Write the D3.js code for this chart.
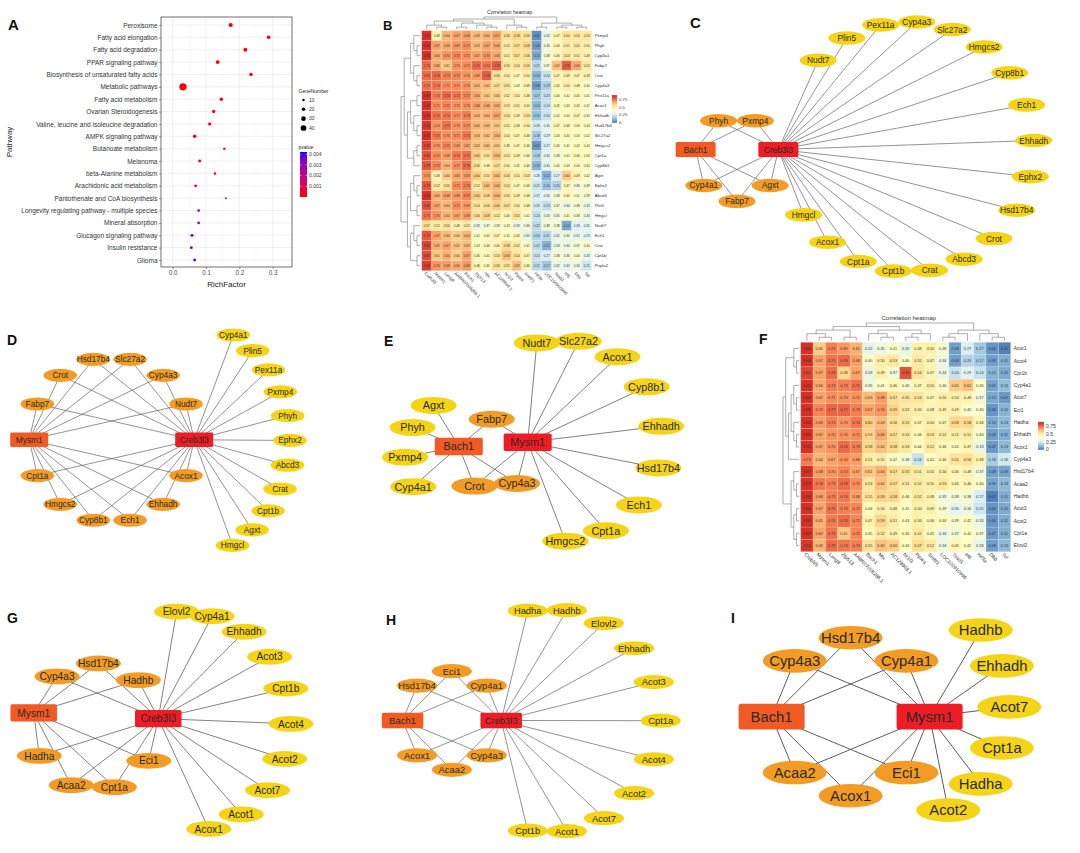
<!DOCTYPE html>
<html><head><meta charset="utf-8">
<script src="https://cdn.jsdelivr.net/npm/d3@7"></script>
<style>body{margin:0;background:#fff}svg{display:block}text{font-family:"Liberation Sans",Arial,sans-serif}</style>
</head><body><svg id="c" width="1080" height="853"></svg>
<script>
// ================= DATA =================
// Panel A – KEGG enrichment
const pathways = ["Peroxisome","Fatty acid elongation","Fatty acid degradation","PPAR signaling pathway",
 "Biosynthesis of unsaturated fatty acids","Metabolic pathways","Fatty acid metabolism","Ovarian Steroidogenesis",
 "Valine, leucine and isoleucine degradation","AMPK signaling pathway","Butanoate metabolism","Melanoma",
 "beta-Alanine metabolism","Arachidonic acid metabolism","Pantothenate and CoA biosynthesis",
 "Longevity regulating pathway - multiple species","Mineral absorption","Glucagon signaling pathway","Insulin resistance","Glioma"];
const richFactor = [0.174,0.288,0.218,0.135,0.235,0.031,0.146,0.123,0.111,0.066,0.155,0.081,0.127,0.069,0.160,0.078,0.078,0.058,0.056,0.066];
const geneNumber = [26,20,23,23,20,55,19,19,17,20,10,14,10,13,5,13,13,16,14,13];
const pValue = [0.00002,0.00005,0.00003,0.00008,0.0001,0.00001,0.00012,0.00015,0.0002,0.0004,0.0003,0.0008,0.0006,0.0009,0.0015,0.0021,0.0017,0.0029,0.0034,0.0040];
const richTicks = [0,0.1,0.2,0.3];
const richMinor = [0.05,0.15,0.25,0.35];
const sizeBreaks = [10,20,30,40];
const pBreaks = [0.001,0.002,0.003,0.004];

// Panel B – correlation heatmap
const bRows = ["Pxmp4","Phyh","Cyp4a1","Fabp7","Crat","Cyp4a3","Pex11a","Acox1","Ehhadh","Hsd17b4","Slc27a2","Hmgcs2",
 "Cpt1a","Cyp8b1","Agxt","Ephx2","Abcd3","Plin5","Hmgcl","Nudt7","Ech1","Crot","Cpt1b","Pnpla2"];
const bCols = ["Creb3l3","Mysm1","Leng8","AABR07006286.1","Bach1","Zfp513","Mlx","AC128848.1","Nr1i3","Ppara","Srebf1",
 "Hif3a","LOC100910996","Tead1","Irf6","Dbp","Tef"];
const bValues = [
 [.87,.48,.64,.67,.68,.63,.64,.67,.56,.58,.56,.05,.32,.47,.54,.54,.53],
 [.86,.67,.66,.69,.71,.63,.67,.66,.52,.57,.58,.08,.36,.46,.51,.52,.50],
 [.85,.66,.70,.72,.71,.67,.70,.66,.51,.57,.56,.10,.38,.46,.53,.51,.49],
 [.76,.66,.61,.70,.71,.76,.74,.78,.55,.54,.56,.21,.37,.62,.78,.66,.52],
 [.76,.76,.73,.72,.70,.69,.78,.56,.50,.47,.50,.13,.24,.47,.49,.47,.49],
 [.75,.74,.71,.71,.70,.64,.62,.57,.55,.43,.48,.08,.19,.45,.50,.48,.40],
 [.89,.73,.76,.74,.72,.66,.61,.60,.52,.50,.48,.17,.23,.44,.42,.45,.41],
 [.88,.71,.72,.70,.70,.68,.66,.65,.53,.51,.50,.14,.24,.45,.43,.45,.41],
 [.86,.75,.74,.71,.73,.64,.64,.67,.54,.49,.53,.15,.24,.42,.44,.47,.40],
 [.84,.70,.75,.70,.71,.64,.63,.61,.51,.48,.50,.26,.30,.47,.46,.45,.44],
 [.85,.74,.70,.71,.74,.63,.62,.64,.50,.47,.48,.18,.29,.43,.45,.43,.42],
 [.82,.70,.72,.69,.67,.62,.62,.61,.48,.47,.46,.07,.27,.40,.42,.43,.44],
 [.80,.71,.68,.74,.75,.60,.55,.63,.52,.49,.46,.19,.30,.38,.42,.46,.43],
 [.79,.72,.64,.71,.76,.56,.48,.57,.50,.45,.46,.13,.30,.40,.43,.44,.45],
 [.70,.48,.60,.66,.68,.60,.55,.62,.56,.50,.53,.28,.12,.27,.60,.49,.42],
 [.79,.52,.55,.71,.73,.52,.62,.64,.54,.47,.46,.25,.16,.20,.47,.36,.39],
 [.86,.65,.68,.69,.72,.60,.58,.64,.55,.49,.48,.27,.30,.38,.45,.41,.39],
 [.80,.67,.64,.71,.69,.54,.56,.60,.57,.50,.48,.26,.23,.37,.34,.38,.33],
 [.75,.70,.64,.67,.68,.56,.59,.52,.46,.55,.42,.24,.33,.35,.41,.38,.34],
 [.57,.52,.55,.48,.52,.33,.37,.39,.43,.33,.36,.22,.38,.38,.10,.28,.30],
 [.79,.67,.63,.60,.64,.42,.45,.47,.42,.46,.33,.20,.21,.31,.35,.32,.29],
 [.82,.65,.67,.62,.63,.43,.46,.46,.58,.52,.42,.22,.12,.33,.34,.37,.40],
 [.81,.61,.65,.60,.67,.46,.45,.53,.63,.54,.47,.24,.27,.38,.36,.40,.33],
 [.83,.70,.68,.66,.69,.48,.45,.56,.55,.62,.46,.22,.17,.32,.32,.34,.25]];
const bRowTree = [[[[0,[1,2]],[3,[4,5]]],[[[6,7],[8,[9,10]]],[[11,12],13]]],[[[14,[15,16]],[17,18]],[[19,[20,21]],[22,23]]]];
const bColTree = [[[[0,[1,2]],[[3,4],[5,[6,7]]]],[8,[9,10]]],[[11,12],[[13,14],[15,16]]]];

// Panel F – correlation heatmap
const fRows = ["Acot1","Acot4","Cpt1b","Cyp4a1","Acot7","Eci1","Hadha","Ehhadh","Acox1","Cyp4a3","Hsd17b4","Acaa2",
 "Hadhb","Acot3","Acot2","Cpt1a","Elovl2"];
const fCols = ["Creb3l3","Mysm1","Leng8","Zfp513","AABR07006286.1","Bach1","Mlx","AC128848.1","Nr1i3","Ppara","Srebf1",
 "LOC100910996","Tead1","Irf6","Hif3a","Dbp","Tef"];
const fValues = [
 [.88,.60,.73,.69,.65,.32,.35,.41,.32,.48,.50,.38,.08,.27,.17,.06,.02],
 [.88,.67,.75,.76,.68,.40,.50,.53,.40,.52,.47,.34,.08,.20,.17,.08,.11],
 [.82,.67,.76,.58,.67,.33,.49,.37,.80,.54,.47,.34,.24,.29,.24,.12,.10],
 [.86,.66,.73,.73,.75,.35,.41,.46,.40,.47,.50,.40,.60,.62,.40,.09,.14],
 [.88,.67,.71,.70,.70,.63,.68,.57,.55,.54,.47,.50,.50,.48,.37,.10,.07],
 [.86,.72,.77,.77,.73,.67,.70,.59,.52,.50,.48,.49,.49,.40,.40,.06,.12],
 [.86,.69,.73,.70,.74,.60,.63,.56,.55,.47,.50,.47,.58,.58,.46,.10,.13],
 [.86,.67,.70,.70,.71,.59,.66,.57,.53,.46,.53,.51,.51,.51,.40,.08,.11],
 [.86,.67,.70,.76,.73,.58,.62,.58,.53,.44,.52,.46,.45,.47,.33,.07,.13],
 [.73,.64,.67,.70,.68,.51,.51,.42,.38,.24,.42,.46,.55,.56,.48,.18,.26],
 [.87,.68,.70,.72,.67,.61,.64,.57,.55,.51,.50,.50,.46,.48,.37,.08,.09],
 [.87,.74,.73,.76,.71,.53,.62,.57,.51,.52,.50,.53,.46,.46,.40,.09,.13],
 [.88,.68,.73,.74,.68,.55,.59,.58,.46,.52,.48,.35,.38,.38,.27,.02,.11],
 [.86,.67,.75,.73,.72,.44,.50,.48,.42,.50,.49,.39,.30,.34,.25,.06,.10],
 [.88,.65,.74,.76,.72,.47,.59,.51,.43,.50,.46,.44,.39,.42,.33,.06,.11],
 [.87,.67,.75,.61,.72,.45,.52,.49,.45,.52,.45,.34,.37,.42,.37,.07,.11],
 [.84,.64,.76,.74,.73,.55,.62,.60,.43,.57,.52,.34,.46,.42,.33,.08,.13]];
const fRowTree = [[[0,[1,2]],[[[3,[4,5]],[6,[7,8]]],9]],[[10,[11,12]],[[13,14],[15,16]]]];
const fColTree = [[[[0,[1,2]],[3,4]],[[5,[6,7]],[[8,9],10]]],[[[11,12],13],[14,[15,16]]]];
const heatLegendTicks = [0,0.25,0.5,0.75];

// Networks (C, D, E, G, H, I)
const netC = {main:"Creb3l3", second:"Bach1",
  ring:["Fabp7","Cyp4a1","Bach1","Phyh","Pxmp4","Creb3l3","Agxt"],
  arc:["Nudt7","Plin5","Pex11a","Cyp4a3","Slc27a2","Hmgcs2","Cyp8b1","Ech1","Ehhadh","Ephx2","Hsd17b4","Crot","Abcd3","Crat","Cpt1b","Cpt1a","Acox1","Hmgcl"], secArc:[]};
const netD = {main:"Creb3l3", second:"Mysm1",
  ring:["Creb3l3","Acox1","Ehhadh","Ech1","Cyp8b1","Hmgcs2","Cpt1a","Mysm1","Fabp7","Crot","Hsd17b4","Slc27a2","Cyp4a3","Nudt7"],
  arc:["Cyp4a1","Plin5","Pex11a","Pxmp4","Phyh","Ephx2","Abcd3","Crat","Cpt1b","Agxt","Hmgcl"], secArc:[]};
const netE = {main:"Mysm1", second:"Bach1",
  ring:["Fabp7","Mysm1","Cyp4a3","Crot","Bach1"],
  arc:["Nudt7","Slc27a2","Acox1","Cyp8b1","Ehhadh","Hsd17b4","Ech1","Cpt1a","Hmgcs2"],
  secArc:["Agxt","Phyh","Pxmp4","Cyp4a1"]};
const netG = {main:"Creb3l3", second:"Mysm1",
  ring:["Creb3l3","Eci1","Cpt1a","Acaa2","Hadha","Mysm1","Cyp4a3","Hsd17b4","Hadhb"],
  arc:["Elovl2","Cyp4a1","Ehhadh","Acot3","Cpt1b","Acot4","Acot2","Acot7","Acot1","Acox1"], secArc:[]};
const netH = {main:"Creb3l3", second:"Bach1",
  ring:["Creb3l3","Cyp4a3","Acaa2","Acox1","Bach1","Hsd17b4","Eci1","Cyp4a1"],
  arc:["Hadha","Hadhb","Elovl2","Ehhadh","Acot3","Cpt1a","Acot4","Acot2","Acot7","Acot1","Cpt1b"], secArc:[]};
const netI = {main:"Mysm1", second:"Bach1",
  ring:["Mysm1","Eci1","Acox1","Acaa2","Bach1","Cyp4a3","Hsd17b4","Cyp4a1"],
  arc:["Hadhb","Ehhadh","Acot7","Cpt1a","Hadha","Acot2"], secArc:[]};

// ================= LAYOUT / STYLE =================
const svg = d3.select("#c");
const fmt2 = d3.format(".2f");

// ---------- Panel A ----------
(function(){
  const g = svg.append("g");
  const L = 161, R = 292, T = 17, B = 267;
  const x = d3.scaleLinear().domain([-0.035,0.358]).range([L,R]);
  const y = d3.scalePoint().domain(pathways).range([25,260]);
  const r = d3.scaleLinear().domain([0,40]).range([0.7,2.85]);
  const col = d3.scaleLinear().domain([0,0.0042]).range(["#FF0000","#0000FF"]).interpolate(d3.interpolateLab);
  g.selectAll(".mn").data(richMinor).join("line").attr("x1",x).attr("x2",x).attr("y1",T).attr("y2",B)
    .attr("stroke","#F3F3F3").attr("stroke-width",0.4);
  g.selectAll(".mj").data(richTicks).join("line").attr("x1",x).attr("x2",x).attr("y1",T).attr("y2",B)
    .attr("stroke","#E8E8E8").attr("stroke-width",0.6);
  g.selectAll(".hy").data(pathways).join("line").attr("x1",L).attr("x2",R).attr("y1",y).attr("y2",y)
    .attr("stroke","#E8E8E8").attr("stroke-width",0.6);
  const pts = pathways.map((p,i)=>({p, rf:richFactor[i], n:geneNumber[i], pv:pValue[i]}));
  g.selectAll("circle.pt").data(pts).join("circle").attr("cx",d=>x(d.rf)).attr("cy",d=>y(d.p))
    .attr("r",d=>r(d.n)).attr("fill",d=>col(d.pv));
  g.append("rect").attr("x",L).attr("y",T).attr("width",R-L).attr("height",B-T).attr("fill","none")
    .attr("stroke","#333").attr("stroke-width",0.7);
  const ax = g.append("g").attr("transform",`translate(0,${B})`)
    .call(d3.axisBottom(x).tickValues(richTicks).tickFormat(d3.format(".1f")).tickSize(2).tickPadding(1.5));
  ax.select(".domain").remove();
  ax.selectAll("text").attr("font-size",6.3).attr("fill","#4D4D4D").attr("font-family","Liberation Sans");
  ax.selectAll("line").attr("stroke","#333").attr("stroke-width",0.5);
  const ay = g.append("g").attr("transform",`translate(${L},0)`)
    .call(d3.axisLeft(y).tickSize(2).tickPadding(1.5));
  ay.select(".domain").remove();
  ay.selectAll("text").attr("font-size",6.5).attr("fill","#333").attr("font-family","Liberation Sans");
  ay.selectAll("line").attr("stroke","#333").attr("stroke-width",0.5);
  g.append("text").attr("x",(L+R)/2).attr("y",287).attr("text-anchor","middle").attr("font-size",8).attr("fill","#222").text("RichFactor");
  g.append("text").attr("transform","translate(12,142) rotate(-90)").attr("text-anchor","middle").attr("font-size",8).attr("fill","#222").text("Pathway");
  g.append("text").attr("x",298.5).attr("y",92.5).attr("font-size",5).attr("fill","#222").text("GeneNumber");
  const ly = d3.scalePoint().domain(sizeBreaks).range([100,128]);
  g.selectAll("circle.lg").data(sizeBreaks).join("circle").attr("cx",303.5).attr("cy",ly).attr("r",r).attr("fill","#000");
  g.selectAll("text.lg").data(sizeBreaks).join("text").attr("x",309).attr("y",ly).attr("dy","0.35em").attr("font-size",5).attr("fill","#333").text(d=>d);
  g.append("text").attr("x",298.5).attr("y",148.5).attr("font-size",5).attr("fill","#222").text("pvalue");
  const cy = d3.scaleLinear().domain([0,0.0042]).range([197,152]);
  const defs = svg.append("defs");
  const gr = defs.append("linearGradient").attr("id","pgrad").attr("x1",0).attr("x2",0).attr("y1",1).attr("y2",0);
  d3.range(0,1.0001,0.1).forEach(t=>gr.append("stop").attr("offset",t).attr("stop-color",col(t*0.0042)));
  g.append("rect").attr("x",300).attr("y",152).attr("width",7).attr("height",45).attr("fill","url(#pgrad)");
  g.selectAll("line.pb").data(pBreaks).join("line").attr("x1",300).attr("x2",301.5).attr("y1",cy).attr("y2",cy).attr("stroke","#fff").attr("stroke-width",0.5);
  g.selectAll("line.pb2").data(pBreaks).join("line").attr("x1",305.5).attr("x2",307).attr("y1",cy).attr("y2",cy).attr("stroke","#fff").attr("stroke-width",0.5);
  g.selectAll("text.pb").data(pBreaks).join("text").attr("x",309).attr("y",cy).attr("dy","0.35em").attr("font-size",5).attr("fill","#333").text(d3.format(".3f"));
})();

// ---------- Heatmaps ----------
const heatColor = d3.scaleLinear().domain(d3.range(7).map(i=>i*0.85/6))
  .range(["#4575B4","#91BFDB","#E0F3F8","#FFFFBF","#FEE090","#FC8D59","#D73027"]).clamp(true);

function dendro(g, tree, leafPos, base, top, horizontal){
  const root = d3.hierarchy(tree, d => Array.isArray(d) ? d : null);
  const lvl = d3.scaleLinear().domain([0, root.height]).range([base, top]);
  root.eachAfter(n => { n.p = n.children ? d3.mean(n.children, c => c.p) : leafPos(n.data); });
  const segs = [];
  root.each(n => {
    if (!n.children) return;
    const h = lvl(n.height), ps = n.children.map(c => c.p);
    segs.push([d3.min(ps),h,d3.max(ps),h]);
    n.children.forEach(c => segs.push([c.p, lvl(c.height), c.p, h]));
  });
  g.selectAll(null).data(segs).join("line")
    .attr("x1",s=>horizontal?s[1]:s[0]).attr("y1",s=>horizontal?s[0]:s[1])
    .attr("x2",s=>horizontal?s[3]:s[2]).attr("y2",s=>horizontal?s[2]:s[3])
    .attr("stroke","#777").attr("stroke-width",0.6);
}

function heatmap(cfg, rows, cols, vals, rowTree, colTree){
  const g = svg.append("g");
  const x = d3.scaleBand().domain(d3.range(cols.length)).range([cfg.x0,cfg.x1]);
  const y = d3.scaleBand().domain(d3.range(rows.length)).range([cfg.y0,cfg.y1]);
  const cells = vals.flatMap((row,i)=>row.map((v,j)=>({i,j,v})));
  g.selectAll("rect.c").data(cells).join("rect").attr("x",d=>x(d.j)).attr("y",d=>y(d.i))
    .attr("width",x.bandwidth()).attr("height",y.bandwidth()).attr("fill",d=>heatColor(d.v))
    .attr("stroke","#f2efe6").attr("stroke-width",0.2);
  g.selectAll("text.v").data(cells).join("text").attr("x",d=>x(d.j)+x.bandwidth()/2)
    .attr("y",d=>y(d.i)+y.bandwidth()/2).attr("dy","0.35em").attr("text-anchor","middle")
    .attr("font-size",cfg.valFont).attr("fill","#333").text(d=>fmt2(d.v));
  g.selectAll("text.rl").data(rows).join("text").attr("x",cfg.x1+3).attr("y",(d,i)=>y(i)+y.bandwidth()/2)
    .attr("dy","0.35em").attr("font-size",cfg.labFont).attr("fill","#333").text(d=>d);
  g.selectAll("text.cl").data(cols).join("text")
    .attr("transform",(d,j)=>`translate(${x(j)+x.bandwidth()/2-cfg.labFont*0.6},${cfg.y1+3}) rotate(45)`)
    .attr("font-size",cfg.labFont).attr("fill","#333").text(d=>d);
  dendro(g, colTree, j=>x(j)+x.bandwidth()/2, cfg.y0-1.5, cfg.colTop, false);
  dendro(g, rowTree, i=>y(i)+y.bandwidth()/2, cfg.x0-1.5, cfg.rowLeft, true);
  g.append("text").attr("x",(cfg.x0+cfg.x1)/2+3).attr("y",cfg.titleY).attr("text-anchor","middle")
    .attr("font-size",cfg.titleFont).attr("fill","#333").text("Correlation heatmap");
  const ly = d3.scaleLinear().domain([0,0.9]).range([cfg.legBottom, cfg.legBottom-0.9*cfg.legPx]);
  const steps = d3.range(0,0.9,0.01);
  g.selectAll("rect.lg").data(steps).join("rect").attr("x",cfg.legX).attr("y",d=>ly(d+0.01))
    .attr("width",cfg.legW).attr("height",Math.abs(ly(0)-ly(0.01))+0.3).attr("fill",d=>heatColor(d+0.005));
  g.selectAll("text.lg").data(heatLegendTicks).join("text").attr("x",cfg.legX+cfg.legW+2).attr("y",ly)
    .attr("dy","0.35em").attr("font-size",cfg.labFont).attr("fill","#333").text(d=>d);
}

heatmap({x0:421.7,x1:591.7,y0:30.7,y1:270.7,valFont:3.1,labFont:4.3,colTop:17,rowLeft:401,titleY:14,titleFont:5,
  legX:612,legW:5,legBottom:122.5,legPx:30.5}, bRows, bCols, bValues, bRowTree, bColTree);
heatmap({x0:800.7,x1:1010.7,y0:342.3,y1:551.7,valFont:3.8,labFont:5,colTop:323,rowLeft:783,titleY:320,titleFont:6,
  legX:1038,legW:6,legBottom:449.5,legPx:30.7}, fRows, fCols, fValues, fRowTree, fColTree);

// ---------- Networks ----------
const colMain = "#EE1C25", colSecond = "#F15A22", colRing = "#F39C25", colArc = "#F5D418";
function network(net, lay, sty){
  const g = svg.append("g");
  const pos = new Map();
  const place = (list, P) => {
    if (!list.length) return;
    const a = d3.scaleLinear().domain([0, Math.max(1,list.length-1)]).range([P.start, P.start + P.step*Math.max(1,list.length-1)]);
    list.forEach((n,i)=>{ const t = a(i)*Math.PI/180; pos.set(n,[P.cx+P.r*Math.cos(t), P.cy+P.r*Math.sin(t)]); });
  };
  place(net.ring, lay.ring); place(net.arc, lay.arc); if (lay.secArc) place(net.secArc, lay.secArc);
  const edges = [];
  net.ring.forEach(n => { if (n!==net.main && n!==net.second){ edges.push([net.main,n]); edges.push([net.second,n]); } });
  net.arc.forEach(n => edges.push([net.main,n]));
  net.secArc.forEach(n => edges.push([net.second,n]));
  g.selectAll("line").data(edges).join("line")
    .attr("x1",e=>pos.get(e[0])[0]).attr("y1",e=>pos.get(e[0])[1])
    .attr("x2",e=>pos.get(e[1])[0]).attr("y2",e=>pos.get(e[1])[1])
    .attr("stroke","#4a4a4a").attr("stroke-width",sty.edge);
  const nodes = [...net.ring.map(n=>({n, t: n===net.main?"main":n===net.second?"second":"ring"})),
                 ...net.arc.map(n=>({n,t:"arc"})), ...net.secArc.map(n=>({n,t:"arc"}))];
  const fill = {main:colMain, second:colSecond, ring:colRing, arc:colArc};
  const hubs = nodes.filter(d=>d.t==="main"||d.t==="second");
  const ells = nodes.filter(d=>d.t==="ring"||d.t==="arc");
  g.selectAll("ellipse").data(ells).join("ellipse").attr("cx",d=>pos.get(d.n)[0]).attr("cy",d=>pos.get(d.n)[1])
    .attr("rx",sty.rx).attr("ry",sty.ry).attr("fill",d=>fill[d.t]);
  g.selectAll("rect").data(hubs).join("rect").attr("x",d=>pos.get(d.n)[0]-sty.w/2).attr("y",d=>pos.get(d.n)[1]-sty.h/2)
    .attr("width",sty.w).attr("height",sty.h).attr("rx",sty.h*0.1).attr("fill",d=>fill[d.t]);
  g.selectAll("text").data(nodes).join("text").attr("x",d=>pos.get(d.n)[0]).attr("y",d=>pos.get(d.n)[1])
    .attr("dy","0.36em").attr("text-anchor","middle").attr("font-size",sty.font).attr("fill","#2a2a2a").text(d=>d.n);
}

network(netC, {ring:{cx:737,cy:159,r:42.4,start:90,step:51.43}, arc:{cx:908.7,cy:146.9,r:125.2,start:-136.3,step:16.67}},
  {w:40,h:15,rx:18.5,ry:6.8,font:8.4,edge:0.6});
network(netD, {ring:{cx:111.7,cy:439.8,r:82.5,start:0,step:25.714}, arc:{cx:164.4,cy:440,r:125.6,start:-56.7,step:11.38}},
  {w:38,h:14.5,rx:16.8,ry:6.6,font:8.3,edge:0.6});
network(netE, {ring:{cx:493.9,cy:455.5,r:36.3,start:-93.5,step:72}, arc:{cx:561.5,cy:440.5,r:100.7,start:-104.2,step:24},
  secArc:{cx:465.5,cy:456.6,r:60.4,start:238,step:-29.3}},
  {w:48,h:17.5,rx:23,ry:8.5,font:10.8,edge:0.7});
network(netG, {ring:{cx:95.5,cy:726.7,r:63.3,start:-7.4,step:40}, arc:{cx:180.5,cy:722.1,r:110.5,start:-92,step:18.58}},
  {w:46.5,h:17.3,rx:22.5,ry:7.9,font:10.2,edge:0.7});
network(netH, {ring:{cx:451.9,cy:720.5,r:49.3,start:0,step:45}, arc:{cx:548.7,cy:720.7,r:112,start:-100.8,step:20.16}},
  {w:41.5,h:15.3,rx:20,ry:7.1,font:9.4,edge:0.6});
network(netI, {ring:{cx:850.6,cy:716.7,r:79,start:0,step:45}, arc:{cx:891.5,cy:706.9,r:117.8,start:-40.8,step:20.4}},
  {w:66,h:25.7,rx:32,ry:11.8,font:14.8,edge:0.9});

// ---------- Panel letters ----------
const letters = [["A",8,30,15],["B",383,30,13],["C",690,28,15],["D",7,345,14],["E",384,346,14],["F",759,344,14],
  ["G",7,623,14],["H",386,625,14]];
svg.selectAll("text.lt").data(letters).join("text").attr("x",d=>d[1]).attr("y",d=>d[2]).attr("font-size",d=>d[3])
  .attr("font-weight","bold").attr("font-family","DejaVu Sans").attr("fill","#111").text(d=>d[0]);
svg.append("text").attr("x",731).attr("y",623).attr("font-size",14).attr("font-weight","bold")
  .attr("font-family","Liberation Serif").attr("fill","#111").text("I");
</script></body></html>
